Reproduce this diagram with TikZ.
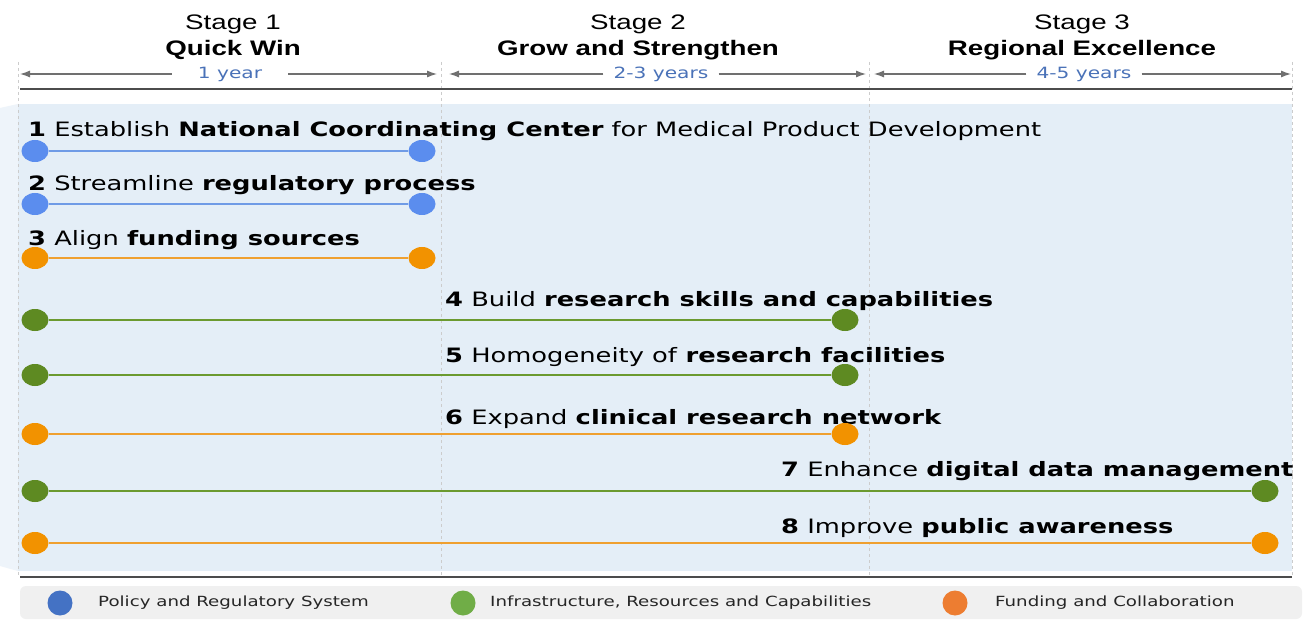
\documentclass[tikz,border=0pt]{standalone}
\usepackage{fontspec}
\setmainfont[FakeStretch=1.3]{DejaVu Sans}
\newfontfamily\hdfont[FakeStretch=1.32]{Liberation Sans}
\usetikzlibrary{shapes.geometric,arrows.meta}
\definecolor{panel}{HTML}{E4EEF7}
\definecolor{panelL}{HTML}{EEF4FA}
\definecolor{legbg}{HTML}{F0F0F0}
\definecolor{bdot}{HTML}{5B8DEE}
\definecolor{bline}{HTML}{6F9BE6}
\definecolor{gdot}{HTML}{5E8A22}
\definecolor{gline}{HTML}{6B9A30}
\definecolor{odot}{HTML}{F29200}
\definecolor{oline}{HTML}{EFA030}
\definecolor{lblue}{HTML}{4472C4}
\definecolor{lgreen}{HTML}{70AD47}
\definecolor{lorange}{HTML}{ED7D31}
\definecolor{yrs}{HTML}{4A72B8}
\definecolor{arr}{HTML}{707070}
\tikzset{
  dotb/.style={ellipse,fill=bdot,minimum width=27pt,minimum height=22pt,inner sep=0pt},
  dotg/.style={ellipse,fill=gdot,minimum width=27pt,minimum height=22pt,inner sep=0pt},
  doto/.style={ellipse,fill=odot,minimum width=27pt,minimum height=22pt,inner sep=0pt},
  lb/.style={draw=bline,line width=1.6pt},
  lg/.style={draw=gline,line width=1.6pt},
  lo/.style={draw=oline,line width=1.6pt},
  rowtxt/.style={anchor=base west,inner sep=0pt,font=\fontsize{19.8}{23}\selectfont},
  hdr/.style={anchor=base,inner sep=0pt,font=\hdfont\fontsize{21}{24}\selectfont},
  hdrb/.style={anchor=base,inner sep=0pt,font=\hdfont\bfseries\fontsize{21}{24}\selectfont},
  yrlab/.style={inner sep=0pt,text=yrs,font=\fontsize{15.5}{18}\selectfont},
  span/.style={draw=arr,line width=1.2pt,-{Latex[length=10pt,width=7pt]}},
  sep/.style={draw=gray!40,dashed,line width=0.6pt},
  legc/.style={circle,minimum size=25pt,inner sep=0pt},
  legt/.style={anchor=west,inner sep=0pt,font=\fontsize{14}{16}\selectfont,text=black!85}
}
\begin{document}
\begin{tikzpicture}[x=1pt,y=-1pt]
\useasboundingbox (0,0) rectangle (1306,620);
\fill[white] (0,0) rectangle (1306,620);
% panel
\fill[panelL] (0,108) -- (18,104) -- (18,571) -- (0,566) -- cycle;
\fill[panel] (18,104) rectangle (1292,571);
% separators
\foreach \x in {18,441,869,1292} \draw[sep] (\x,62) -- (\x,575);
% top & bottom rules
\draw[black!70,line width=1.3pt] (20,89) -- (1292,89);
\draw[black!70,line width=1.3pt] (20,577) -- (1292,577);
% headers
\node[hdr] (s1) at (233,30) {Stage 1};
\node[hdrb] (q1) at (233,56) {Quick Win};
\node[hdr] (s2) at (638,30) {Stage 2};
\node[hdrb] (q2) at (638,56) {Grow and Strengthen};
\node[hdr] (s3) at (1082,30) {Stage 3};
\node[hdrb] (q3) at (1082,56) {Regional Excellence};
% spans
\node[yrlab] (y1) at (230,74) {1 year};
\node[yrlab] (y2) at (661,74) {2-3 years};
\node[yrlab] (y3) at (1084,74) {4-5 years};
\coordinate (a1l) at (20,74); \coordinate (a1r) at (437,74);
\coordinate (a2l) at (449,74); \coordinate (a2r) at (866,74);
\coordinate (a3l) at (874,74); \coordinate (a3r) at (1291,74);
\draw[span] ([xshift=-26pt]y1.west) -- (a1l);
\draw[span] ([xshift=26pt]y1.east) -- (a1r);
\draw[span] ([xshift=-10pt]y2.west) -- (a2l);
\draw[span] ([xshift=10pt]y2.east) -- (a2r);
\draw[span] ([xshift=-10pt]y3.west) -- (a3l);
\draw[span] ([xshift=10pt]y3.east) -- (a3r);
% rows
\node[rowtxt] (t1) at (28,137) {\textbf{1} Establish \textbf{National Coordinating Center} for Medical Product Development};
\node[dotb] (d1a) at (35,151) {}; \node[dotb] (d1b) at (422,151) {};
\draw[lb] (d1a) -- (d1b);
\node[rowtxt] (t2) at (28,191) {\textbf{2} Streamline \textbf{regulatory process}};
\node[dotb] (d2a) at (35,204) {}; \node[dotb] (d2b) at (422,204) {};
\draw[lb] (d2a) -- (d2b);
\node[rowtxt] (t3) at (28,246) {\textbf{3} Align \textbf{funding sources}};
\node[doto] (d3a) at (35,258) {}; \node[doto] (d3b) at (422,258) {};
\draw[lo] (d3a) -- (d3b);
\node[rowtxt] (t4) at (445,306) {\textbf{4} Build \textbf{research skills and capabilities}};
\node[dotg] (d4a) at (35,320) {}; \node[dotg] (d4b) at (845,320) {};
\draw[lg] (d4a) -- (d4b);
\node[rowtxt] (t5) at (445,362) {\textbf{5} Homogeneity of \textbf{research facilities}};
\node[dotg] (d5a) at (35,375) {}; \node[dotg] (d5b) at (845,375) {};
\draw[lg] (d5a) -- (d5b);
\node[rowtxt] (t6) at (445,424) {\textbf{6} Expand \textbf{clinical research network}};
\node[doto] (d6a) at (35,434) {}; \node[doto] (d6b) at (845,434) {};
\draw[lo] (d6a) -- (d6b);
\node[rowtxt] (t7) at (781,476) {\textbf{7} Enhance \textbf{digital data management}};
\node[dotg] (d7a) at (35,491) {}; \node[dotg] (d7b) at (1265,491) {};
\draw[lg] (d7a) -- (d7b);
\node[rowtxt] (t8) at (781,533) {\textbf{8} Improve \textbf{public awareness}};
\node[doto] (d8a) at (35,543) {}; \node[doto] (d8b) at (1265,543) {};
\draw[lo] (d8a) -- (d8b);
% legend
\fill[legbg,rounded corners=6pt] (20,586) rectangle (1302,619);
\node[legc,fill=lblue] (c1) at (60,603) {};
\node[legt] (l1) at (98,603) {Policy and Regulatory System};
\node[legc,fill=lgreen] (c2) at (463,603) {};
\node[legt] (l2) at (490,603) {Infrastructure, Resources and Capabilities};
\node[legc,fill=lorange] (c3) at (955,603) {};
\node[legt] (l3) at (995,603) {Funding and Collaboration};
\end{tikzpicture}
\end{document}
